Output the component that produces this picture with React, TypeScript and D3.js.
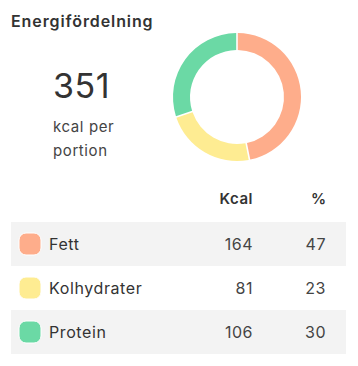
import React from 'react';
import { pie, arc, PieArcDatum } from 'd3';

const categories = ['Fett', 'Kolhydrater', 'Protein'];
const kcal = [164, 81, 106];
const percent = [47, 23, 30];
const colors = ['#fead8b', '#feec92', '#6bd9a5'];
const total = 351;

const width = 358;
const height = 366;
const font = 'Inter, sans-serif';

const App = () => {
    const cx = 237;
    const cy = 97;
    const outerR = 64;
    const innerR = 47;

    const pieGen = pie<number>().sort(null).value(d => d).padAngle(0.02);
    const arcs = pieGen(percent);
    const arcGen = arc<PieArcDatum<number>>().innerRadius(innerR).outerRadius(outerR);

    const tableLeft = 11;
    const tableRight = 346;
    const rowTop = 222;
    const rowH = 44;
    const kcalX = 253;
    const pctX = 326;

    return (
        <svg width={width} height={height} style={{ position: 'absolute', left: 0, top: 0, fontFamily: font }}>
            <rect width={width} height={height} fill="#fff" />
            <text x={11} y={27} fontSize={16} fontWeight={600} letterSpacing={0.9} fill="#333">Energifördelning</text>

            <text x={53} y={98} fontSize={34} letterSpacing={0.5} fill="#333">{total}</text>
            <text x={53} y={132} fontSize={15} letterSpacing={0.6} fill="#444">kcal per</text>
            <text x={53} y={156} fontSize={15} letterSpacing={0.6} fill="#444">portion</text>

            <g transform={`translate(${cx}, ${cy})`}>
                {arcs.map((a, i) => (
                    <path key={`arc-${categories[i]}`} d={arcGen(a) || ''} fill={colors[i]} />
                ))}
            </g>

            <text x={kcalX} y={204} fontSize={15} fontWeight={600} letterSpacing={0.5} fill="#333" textAnchor="end">Kcal</text>
            <text x={pctX} y={204} fontSize={15} fontWeight={600} fill="#333" textAnchor="end">%</text>

            {categories.map((c, i) => {
                const y = rowTop + i * rowH;
                return (
                    <g key={`row-${c}`} transform={`translate(0, ${y})`}>
                        {i % 2 === 0 && (
                            <rect x={tableLeft} width={tableRight - tableLeft} height={rowH} fill="#f3f3f3" />
                        )}
                        <rect x={19} y={11} width={22} height={22} rx={7} fill={colors[i]} stroke="#fff" strokeWidth={1} />
                        <text x={49} y={rowH / 2} dy="0.36em" fontSize={16} letterSpacing={0.6} fill="#333">{c}</text>
                        <text x={kcalX} y={rowH / 2} dy="0.36em" fontSize={16} letterSpacing={0.5} fill="#444" textAnchor="end">{kcal[i]}</text>
                        <text x={pctX} y={rowH / 2} dy="0.36em" fontSize={16} letterSpacing={0.5} fill="#444" textAnchor="end">{percent[i]}</text>
                    </g>
                );
            })}
        </svg>
    );
};

export default App;
